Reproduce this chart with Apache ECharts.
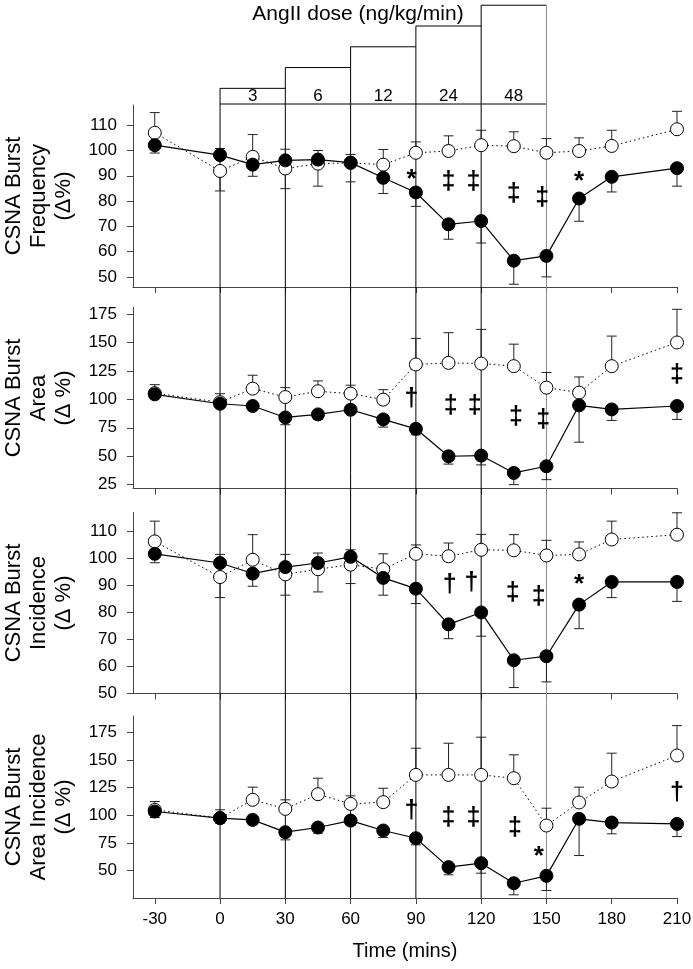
<!DOCTYPE html>
<html><head><meta charset="utf-8">
<script src="https://cdn.jsdelivr.net/npm/echarts@6/dist/echarts.min.js"></script>
<style>html,body{margin:0;padding:0;background:#fff}#c{width:693px;height:969px}</style>
</head><body><div id="c"></div>
<script>
// ---------- DATA ----------
const times = [-30, 0, 15, 30, 45, 60, 75, 90, 105, 120, 135, 150, 165, 180, 210];
const xTicks = [-30, 0, 30, 60, 90, 120, 150, 180, 210];

// Dose steps (AngII, ng/kg/min)
const doseStart = [0, 30, 60, 90, 120];
const doseEnd = [30, 60, 90, 120, 150];
const doseValues = [3, 6, 12, 24, 48];
const doseLabels = ['3', '6', '12', '24', '48'];

// Panel 1: CSNA Burst Frequency
const freqAng = [102.1, 98.2, 94.4, 96.1, 96.4, 95.2, 89.2, 83.4, 70.8, 72.1, 56.4, 58.3, 81.0, 89.6, 93.0];
const freqAngErr = [99.0, 100.8, 89.8, 100.5, 100.0, 98.4, 83.0, 77.9, 64.9, 63.4, 47.1, 50.0, 72.0, 83.6, 85.9];
const freqCtl = [107.0, 91.9, 97.5, 92.9, 94.8, 95.1, 94.4, 99.1, 99.8, 102.1, 101.7, 99.1, 99.8, 101.8, 108.4];
const freqCtlErr = [115.0, 84.0, 106.3, 84.9, 85.9, 87.6, 100.4, 103.4, 105.8, 108.0, 107.4, 104.7, 105.0, 108.0, 115.5];
const freqSigX = [88, 105, 116.5, 135, 148, 165];
const freqSigY = [91.1, 87.5, 87.5, 82.6, 81.2, 90.5];
const freqSigT = ['*', '‡', '‡', '‡', '‡', '*'];

// Panel 2: CSNA Burst Area
const areaAng = [104.5, 96.2, 94.2, 84.1, 86.8, 90.9, 82.4, 74.1, 49.9, 50.5, 35.2, 41.1, 94.8, 91.2, 94.2];
const areaAngErr = [100.7, 93.0, 91.0, 77.7, 82.4, 88.0, 75.6, 68.8, 43.0, 42.3, 24.9, 29.3, 62.3, 81.5, 82.4];
const areaCtl = [105.5, 97.5, 109.5, 102.1, 107.2, 105.1, 99.8, 130.8, 132.2, 131.6, 129.3, 110.4, 106.0, 129.3, 150.2];
const areaCtlErr = [113.0, 105.0, 121.3, 110.4, 116.3, 112.5, 108.6, 153.8, 158.8, 161.7, 148.7, 123.7, 119.8, 155.8, 179.4];
const areaSigX = [88, 106, 117, 136, 148.5, 210];
const areaSigY = [100.7, 93.9, 93.9, 84.4, 81.5, 121.3];
const areaSigT = ['†', '‡', '‡', '‡', '‡', '‡'];

// Panel 3: CSNA Burst Incidence
const incAng = [101.7, 98.3, 94.4, 96.8, 98.3, 100.6, 92.8, 88.8, 75.6, 80.0, 62.3, 63.8, 82.9, 91.3, 91.3];
const incAngErr = [98.4, 101.5, 89.7, 101.5, 102.0, 103.2, 86.4, 83.3, 70.3, 71.2, 52.2, 54.3, 74.0, 85.5, 84.1];
const incCtl = [106.3, 93.1, 99.5, 94.1, 96.0, 97.7, 96.0, 101.7, 100.8, 103.2, 103.0, 101.1, 101.5, 107.0, 108.8];
const incCtlErr = [113.8, 85.5, 108.8, 86.4, 87.6, 90.7, 101.7, 105.0, 105.7, 108.9, 108.8, 106.7, 106.1, 113.8, 116.9];
const incSigX = [105.5, 115.5, 134.5, 146.5, 165];
const incSigY = [90.0, 90.7, 87.0, 85.5, 93.0];
const incSigT = ['†', '†', '‡', '‡', '*'];

// Panel 4: CSNA Burst Area Incidence
const aiAng = [103.4, 97.4, 95.8, 84.7, 88.9, 95.2, 86.2, 79.2, 53.0, 56.6, 38.4, 45.1, 96.8, 93.4, 92.2];
const aiAngErr = [98.0, 93.0, 92.0, 77.7, 83.8, 91.0, 79.8, 73.2, 46.0, 47.5, 27.9, 31.8, 63.5, 83.2, 80.7];
const aiCtl = [104.9, 97.5, 114.0, 105.8, 119.1, 110.3, 111.9, 136.6, 136.6, 136.6, 133.6, 90.7, 111.6, 130.6, 154.2];
const aiCtlErr = [112.5, 105.0, 125.5, 114.0, 133.6, 117.6, 124.5, 160.8, 165.3, 170.8, 154.8, 106.4, 125.5, 156.3, 181.3];
const aiSigX = [88, 105, 116.5, 135.5, 146.5, 210];
const aiSigY = [103.4, 97.4, 97.4, 88.3, 68.5, 120.0];
const aiSigT = ['†', '‡', '‡', '‡', '*', '†'];

// Axis tick labels
const yTicks1 = [50, 60, 70, 80, 90, 100, 110];
const yTicks2 = [25, 50, 75, 100, 125, 150, 175];
const yTicks3 = [50, 60, 70, 80, 90, 100, 110];
const yTicks4 = [50, 75, 100, 125, 150, 175];

// ---------- LAYOUT / STYLE ----------
const FONT = '"Liberation Sans", Arial, Helvetica, sans-serif';
const GL = 133, GW = 544;
const X_MIN = -40, X_MAX = 210;
const panels = [
  {top: 105, height: 182, min: 46, max: 118, ticks: yTicks1, name: 'CSNA Burst\nFrequency\n(Δ%)',
   ang: freqAng, angErr: freqAngErr, ctl: freqCtl, ctlErr: freqCtlErr, sx: freqSigX, sy: freqSigY, st: freqSigT},
  {top: 307.5, height: 181, min: 21.5, max: 181, ticks: yTicks2, name: 'CSNA Burst\nArea\n(Δ %)',
   ang: areaAng, angErr: areaAngErr, ctl: areaCtl, ctlErr: areaCtlErr, sx: areaSigX, sy: areaSigY, st: areaSigT},
  {top: 512.5, height: 181, min: 50, max: 117, ticks: yTicks3, name: 'CSNA Burst\nIncidence\n(Δ %)',
   ang: incAng, angErr: incAngErr, ctl: incCtl, ctlErr: incCtlErr, sx: incSigX, sy: incSigY, st: incSigT},
  {top: 716, height: 182, min: 25, max: 190, ticks: yTicks4, name: 'CSNA Burst\nArea Incidence\n(Δ %)',
   ang: aiAng, angErr: aiAngErr, ctl: aiCtl, ctlErr: aiCtlErr, sx: aiSigX, sy: aiSigY, st: aiSigT}
];
const FULL_BOTTOM = panels[3].top + panels[3].height;
const DOSE_MIN = 1.78, DOSE_MAX = 50;

const grid = [], xAxis = [], yAxis = [], series = [];

function errRender(params, api) {
  const x = api.value(0), y = api.value(1), e = api.value(2);
  const p = api.coord([x, y]), q = api.coord([x, e]);
  const st = {stroke: '#222', lineWidth: 1};
  return {type: 'group', children: [
    {type: 'line', shape: {x1: p[0], y1: p[1], x2: q[0], y2: q[1]}, style: st},
    {type: 'line', shape: {x1: q[0] - 5, y1: q[1], x2: q[0] + 5, y2: q[1]}, style: st}
  ]};
}
function sigRender(texts) {
  return function (params, api) {
    const p = api.coord([api.value(0), api.value(1)]);
    const t = texts[params.dataIndex];
    const star = t === '*';
    return {type: 'text', x: p[0], y: p[1] + (star ? 7 : 0), style: {
      text: t, textAlign: 'center', textVerticalAlign: 'middle',
      font: (star ? 'bold 26px ' : 'bold 25px ') + FONT, fill: '#000'}};
  };
}

panels.forEach((pn, i) => {
  const last = i === 3;
  grid.push({left: GL, width: GW, top: pn.top, height: pn.height, containLabel: false, outerBoundsMode: 'none'});
  xAxis.push({
    type: 'value', gridIndex: i, min: X_MIN, max: X_MAX,
    axisLine: {show: true, onZero: false, lineStyle: {color: '#444', width: 1}},
    axisTick: {show: true, inside: false, length: 6, customValues: xTicks, lineStyle: {color: '#444'}},
    axisLabel: {show: last, customValues: xTicks, margin: 13, fontSize: 17, fontFamily: FONT, color: '#000'},
    splitLine: {show: false},
    name: last ? 'Time (mins)' : '', nameLocation: 'middle', nameGap: 43,
    nameTextStyle: {fontSize: 20, fontFamily: FONT, color: '#000'}
  });
  yAxis.push({
    type: 'value', gridIndex: i, min: pn.min, max: pn.max,
    axisLine: {show: true, onZero: false, lineStyle: {color: '#444', width: 1}},
    axisTick: {show: true, inside: false, length: 6, customValues: pn.ticks, lineStyle: {color: '#444'}},
    axisLabel: {customValues: pn.ticks, margin: 16, fontSize: 17, fontFamily: FONT, color: '#000'},
    splitLine: {show: false},
    name: pn.name, nameLocation: 'middle', nameRotate: 90, nameGap: 57,
    nameTextStyle: {fontSize: 22, lineHeight: 25, fontFamily: FONT, color: '#000', align: 'center'}
  });
  const errData = [];
  times.forEach((t, k) => {
    if (pn.ctlErr[k] != null) errData.push([t, pn.ctl[k], pn.ctlErr[k]]);
    if (pn.angErr[k] != null) errData.push([t, pn.ang[k], pn.angErr[k]]);
  });
  series.push({type: 'custom', xAxisIndex: i, yAxisIndex: i, z: 2, silent: true, clip: false,
    renderItem: errRender, encode: {x: 0, y: [1, 2]}, data: errData});
  series.push({type: 'line', xAxisIndex: i, yAxisIndex: i, z: 3, silent: true,
    data: times.map((t, k) => [t, pn.ctl[k]]),
    symbol: 'circle', symbolSize: 13, showSymbol: true,
    itemStyle: {color: '#fff', borderColor: '#000', borderWidth: 1},
    lineStyle: {color: '#000', width: 1, type: [1.5, 3]}});
  series.push({type: 'line', xAxisIndex: i, yAxisIndex: i, z: 4, silent: true,
    data: times.map((t, k) => [t, pn.ang[k]]),
    symbol: 'circle', symbolSize: 13, showSymbol: true,
    itemStyle: {color: '#000', borderColor: '#000', borderWidth: 1},
    lineStyle: {color: '#000', width: 1.2, type: 'solid'}});
  series.push({type: 'custom', xAxisIndex: i, yAxisIndex: i, z: 5, silent: true, clip: false,
    renderItem: sigRender(pn.st), encode: {x: 0, y: 1},
    data: pn.sx.map((x, k) => [x, pn.sy[k]])});
});

// dose grid
grid.push({left: GL, width: GW, top: 4, height: 100, containLabel: false, outerBoundsMode: 'none'});
xAxis.push({type: 'value', gridIndex: 4, min: X_MIN, max: X_MAX, show: false});
yAxis.push({type: 'log', logBase: 2, gridIndex: 4, min: DOSE_MIN, max: DOSE_MAX, show: false});
series.push({
  type: 'custom', xAxisIndex: 4, yAxisIndex: 4, z: 1, silent: true, clip: false,
  encode: {x: [0, 1], y: 2},
  data: doseStart.map((s, k) => [s, doseEnd[k], doseValues[k]]),
  renderItem: function (params, api) {
    const s = api.value(0), e = api.value(1), d = api.value(2);
    const tl = api.coord([s, d]), tr = api.coord([e, d]);
    const yb = api.coord([s, DOSE_MIN])[1];
    const st = {stroke: '#000', lineWidth: 1};
    const ch = [
      {type: 'line', shape: {x1: tl[0], y1: tl[1], x2: tl[0], y2: FULL_BOTTOM}, style: st},
      {type: 'line', shape: {x1: tl[0], y1: tl[1], x2: tr[0], y2: tr[1]}, style: st},
      {type: 'line', shape: {x1: tl[0], y1: yb, x2: tr[0], y2: yb}, style: st},
      {type: 'text', x: (tl[0] + tr[0]) / 2, y: yb + 1, style: {
        text: doseLabels[params.dataIndex], textAlign: 'center', textVerticalAlign: 'bottom',
        font: '17px ' + FONT, fill: '#000'}}
    ];
    if (params.dataIndex === doseStart.length - 1) {
      ch.push({type: 'line', shape: {x1: tr[0], y1: tr[1], x2: tr[0], y2: FULL_BOTTOM},
        style: {stroke: '#888', lineWidth: 1}});
    }
    return {type: 'group', children: ch};
  }
});

const chart = echarts.init(document.getElementById('c'), null, {renderer: 'canvas'});
chart.setOption({
  animation: false,
  backgroundColor: '#fff',
  grid, xAxis, yAxis, series,
  graphic: [{type: 'text', x: 358, y: 14, style: {
    text: 'AngII dose (ng/kg/min)', textAlign: 'center', textVerticalAlign: 'middle',
    font: '21px ' + FONT, fill: '#000'}}]
});
</script>
</body></html>
